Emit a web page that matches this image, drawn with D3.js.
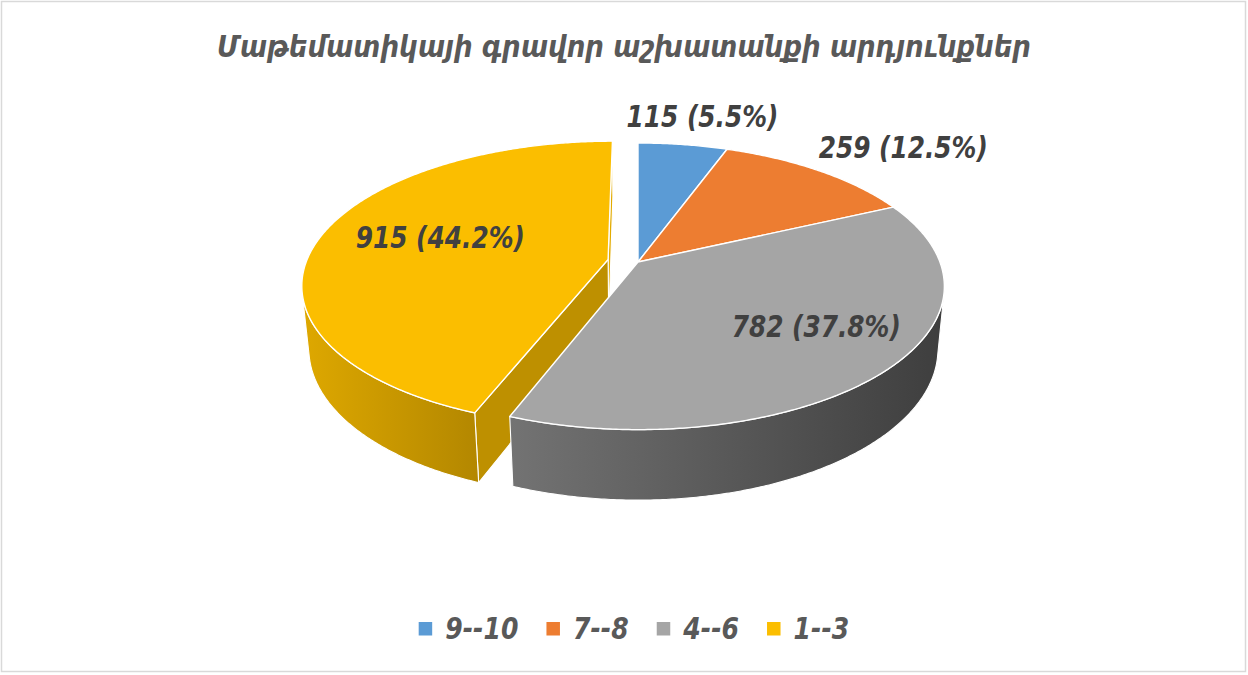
<!DOCTYPE html>
<html><head><meta charset="utf-8">
<script src="https://cdn.jsdelivr.net/npm/d3@7/dist/d3.min.js"></script>
<style>body{margin:0;background:#fff} svg{display:block}</style>
</head><body>
<svg id="chart" width="1248" height="675"></svg>
<script>
// ---------- data ----------
const title = "Մաթեմատիկայի գրավոր աշխատանքի արդյունքներ";
const categories = ["9--10", "7--8", "4--6", "1--3"];
const values = [115, 259, 782, 915];
const percents = [5.5, 12.5, 37.8, 44.2];

// ---------- style / layout ----------
const palette = ["#5B9BD5", "#ED7D31", "#A5A5A5", "#FBBE00"];
const explode = [0, 0, 0, 0.101];
const labelRadius = [1.3, 1.3, 0.7, 0.6];
const wallShade = [[1.0, 2.6], [1.0, 2.6], [1.0, 2.75], [0.35, 0.95]];
const cutShade = 0.78;
const FONT = "'DejaVu Sans', 'Noto Sans', sans-serif";

const W = 1248, H = 675;
const svg = d3.select("#chart");
svg.append("rect").attr("x", 0).attr("y", 0).attr("width", W).attr("height", H).attr("fill", "#fff");
svg.append("rect").attr("x", 1.5).attr("y", 1.5).attr("width", 1244).attr("height", 670)
  .attr("fill", "none").attr("stroke", "#d9d9d9").attr("stroke-width", 1.5);
const defs = svg.append("defs");

// perspective projection of a tilted disc
const cx = 638, cy = 262, F = 1579, Dist = 5.23;
const sT = 0.461, cT = Math.sqrt(1 - sT * sT), thick = 0.237;
function world(px, pz, t) { return [px, pz * sT + t * cT, Dist + pz * cT - t * sT]; }
function proj(w) { return [cx + F * w[0] / w[2], cy - F * w[1] / w[2]]; }
function pt(theta, r, t, off) {
  return world(off[0] + r * Math.sin(theta), off[1] + r * Math.cos(theta), t);
}
function facing(nPlane, P) { // nPlane: [nx, nz] in disc plane (horizontal normal)
  const n = [nPlane[0], nPlane[1] * sT, nPlane[1] * cT];
  return -(n[0] * P[0] + n[1] * P[1] + n[2] * P[2]) > 0;
}

const color = d3.scaleOrdinal(categories, palette);
const pie = d3.pie().sort(null).value(d => d.value).startAngle(0).endAngle(2 * Math.PI);
const arcs = pie(categories.map((c, i) => ({ cat: c, value: values[i], pct: percents[i], i })));

const line = d3.line();
const sideFaces = [];
const topFaces = [];
const step = Math.PI / 360;

arcs.forEach((a, i) => {
  const mid = (a.startAngle + a.endAngle) / 2;
  const off = [explode[i] * Math.sin(mid), explode[i] * Math.cos(mid)];
  const base = d3.color(color(a.data.cat));
  const n = Math.max(2, Math.ceil((a.endAngle - a.startAngle) / step));
  const thetas = d3.range(n + 1).map(k => a.startAngle + (a.endAngle - a.startAngle) * k / n);

  // top face
  const apexT = proj(world(off[0], off[1], 0));
  const topPts = [apexT].concat(thetas.map(t => proj(pt(t, 1, 0, off))));
  topFaces.push({ pts: topPts, fill: base.formatHex() });

  // outer wall (visible part)
  const vis = thetas.filter(t => facing([Math.sin(t), Math.cos(t)], pt(t, 1, -thick / 2, off)));
  if (vis.length > 1) {
    const topArc = vis.map(t => proj(pt(t, 1, 0, off)));
    const botArc = vis.map(t => proj(pt(t, 1, -thick, off))).reverse();
    const pts = topArc.concat(botArc);
    const xs = pts.map(p => p[0]);
    const gid = "wall" + i;
    const g = defs.append("linearGradient").attr("id", gid).attr("gradientUnits", "userSpaceOnUse")
      .attr("x1", d3.min(xs)).attr("x2", d3.max(xs)).attr("y1", 0).attr("y2", 0);
    g.append("stop").attr("offset", 0).attr("stop-color", base.darker(wallShade[i][0]).formatHex());
    g.append("stop").attr("offset", 1).attr("stop-color", base.darker(wallShade[i][1]).formatHex());
    const depth = d3.mean(vis, t => pt(t, 1, -thick / 2, off)[2]);
    sideFaces.push({ pts, fill: `url(#${gid})`, depth });
  }

  // radial cut faces
  [[a.startAngle, [-Math.cos(a.startAngle), Math.sin(a.startAngle)]],
   [a.endAngle, [Math.cos(a.endAngle), -Math.sin(a.endAngle)]]].forEach(([ang, nrm]) => {
    const P = pt(ang, 0.5, -thick / 2, off);
    if (!facing(nrm, P)) return;
    const pts = [proj(world(off[0], off[1], 0)), proj(pt(ang, 1, 0, off)),
                 proj(pt(ang, 1, -thick, off)), proj(world(off[0], off[1], -thick))];
    const lightness = nrm[0] > 0.99 ? 0.3 : cutShade;
    sideFaces.push({ pts, fill: base.darker(lightness).formatHex(), depth: P[2] });
  });

  a.mid = mid; a.off = off;
});

const pieG = svg.append("g");
sideFaces.sort((p, q) => q.depth - p.depth).forEach(f => {
  pieG.append("path").attr("d", line(f.pts) + "Z").attr("fill", f.fill)
    .attr("stroke", "#ffffff").attr("stroke-width", 1.1).attr("stroke-linejoin", "round");
});
topFaces.forEach(f => {
  pieG.append("path").attr("d", line(f.pts) + "Z").attr("fill", f.fill)
    .attr("stroke", "#ffffff").attr("stroke-width", 1.4).attr("stroke-linejoin", "round");
});

// fit helper: compress text horizontally
function squeeze(sel, k, cxText) {
  const node = sel.node();
  const w = node.getComputedTextLength() * k;
  sel.attr("textLength", w).attr("lengthAdjust", "spacingAndGlyphs");
  if (cxText !== undefined) sel.attr("x", cxText - w / 2);
  return w;
}

// data labels
const LABEL_K = 0.8;
arcs.forEach((a, i) => {
  const r = labelRadius[i];
  const P = proj(pt(a.mid, r, 0, a.off));
  const t = svg.append("text")
    .attr("font-family", FONT).attr("font-weight", "bold").attr("font-style", "italic")
    .attr("font-size", 31).attr("fill", "#404040")
    .text(`${a.data.value} (${a.data.pct.toFixed(1)}%)`);
  const w0 = t.node().getComputedTextLength() * LABEL_K;
  const shift = r > 1 ? (w0 / 2) * Math.sin(a.mid) * 0.65 : 0;
  const nudge = r > 1 ? 0 : (Math.sin(a.mid) > 0 ? 10 : 6);
  t.attr("y", P[1] + (r > 1 ? 11 : 3));
  squeeze(t, LABEL_K, P[0] + shift + nudge);
});

// title
const tt = svg.append("text")
  .attr("font-family", FONT).attr("font-weight", "bold").attr("font-style", "italic")
  .attr("font-size", 30).attr("fill", "#595959").attr("y", 57).text(title);
{
  const target = 814;
  tt.attr("textLength", target).attr("lengthAdjust", "spacingAndGlyphs").attr("x", 624 - target / 2);
}

// legend
const legend = svg.append("g");
const items = categories.map((c, i) => {
  const g = legend.append("g");
  g.append("rect").attr("width", 13.5).attr("height", 13.5).attr("y", 622).attr("fill", color(c));
  const t = g.append("text").attr("font-family", FONT).attr("font-weight", "bold").attr("font-style", "italic")
    .attr("font-size", 31).attr("fill", "#595959").attr("y", 638.5).text(c);
  const w = squeeze(t, 0.81);
  return { g, t, w };
});
const gapSym = 13, gapItem = 28, sym = 13.5;
const total = d3.sum(items, d => sym + gapSym + d.w) + gapItem * (items.length - 1);
let x = 634 - total / 2;
items.forEach(d => {
  d.g.select("rect").attr("x", x);
  d.t.attr("x", x + sym + gapSym);
  x += sym + gapSym + d.w + gapItem;
});
</script>
</body></html>
